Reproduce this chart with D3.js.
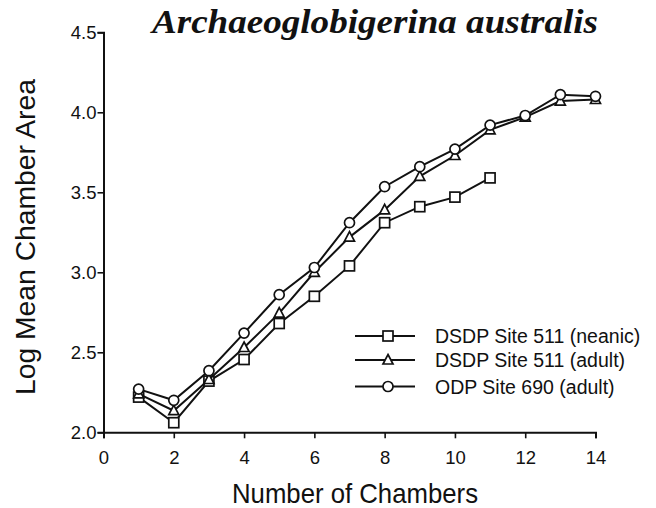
<!DOCTYPE html>
<html>
<head>
<meta charset="utf-8">
<script src="https://cdn.jsdelivr.net/npm/d3@7"></script>
<style>
  html, body { margin: 0; padding: 0; background: #fff; }
  svg { display: block; }
</style>
</head>
<body>
<svg id="chart" width="656" height="508"></svg>
<script>
// Chamber numbers and log mean chamber area for each sample
const chambersNeanic = [1, 2, 3, 4, 5, 6, 7, 8, 9, 10, 11];
const site511Neanic  = [2.22, 2.06, 2.32, 2.455, 2.68, 2.85, 3.04, 3.31, 3.41, 3.47, 3.59];

const chambersAdult  = [1, 2, 3, 4, 5, 6, 7, 8, 9, 10, 11, 12, 13, 14];
const site511Adult   = [2.24, 2.135, 2.33, 2.53, 2.745, 3.00, 3.22, 3.39, 3.60, 3.73, 3.89, 3.97, 4.07, 4.08];
const site690Adult   = [2.27, 2.20, 2.385, 2.62, 2.86, 3.03, 3.31, 3.535, 3.66, 3.77, 3.92, 3.98, 4.11, 4.10];

const seriesNames = ["DSDP Site 511 (neanic)", "DSDP Site 511 (adult)", "ODP Site 690 (adult)"];
const seriesSymbols = ["square", "triangle", "circle"];

const xTicks = [0, 2, 4, 6, 8, 10, 12, 14];
const yTicks = [2.0, 2.5, 3.0, 3.5, 4.0, 4.5];

const series = [
  { name: seriesNames[0], symbol: seriesSymbols[0], x: chambersNeanic, y: site511Neanic },
  { name: seriesNames[1], symbol: seriesSymbols[1], x: chambersAdult,  y: site511Adult },
  { name: seriesNames[2], symbol: seriesSymbols[2], x: chambersAdult,  y: site690Adult }
];

const svg = d3.select("#chart");
const sans = "'Liberation Sans', Arial, Helvetica, sans-serif";

const x = d3.scaleLinear().domain([0, 14]).range([103.5, 595.5]);
const y = d3.scaleLinear().domain([2.0, 4.5]).range([432.3, 32.3]);

// Title
svg.append("text")
  .attr("x", 375).attr("y", 33)
  .attr("text-anchor", "middle")
  .attr("font-family", "'Liberation Serif', 'Times New Roman', serif")
  .attr("font-weight", "bold")
  .attr("font-style", "italic")
  .attr("font-size", 34)
  .attr("textLength", 446)
  .attr("lengthAdjust", "spacingAndGlyphs")
  .attr("fill", "#111")
  .text("Archaeoglobigerina australis");

// Axes
const xAxis = svg.append("g")
  .attr("transform", `translate(0,${y(2.0)})`)
  .call(d3.axisBottom(x).tickValues(xTicks).tickFormat(d3.format("d")).tickSizeOuter(0).tickSize(6).tickPadding(13));
const yAxis = svg.append("g")
  .attr("transform", `translate(${x(0)},0)`)
  .call(d3.axisLeft(y).tickValues(yTicks).tickFormat(d3.format(".1f")).tickSizeOuter(0).tickSize(6).tickPadding(1));

[xAxis, yAxis].forEach(g => {
  g.select(".domain").attr("stroke", "#111").attr("stroke-width", 2);
  g.selectAll(".tick line").attr("stroke", "#111").attr("stroke-width", 1.6);
  g.selectAll(".tick text")
    .attr("fill", "#111")
    .attr("font-family", sans)
    .attr("font-size", 18.5);
});

// Axis titles
svg.append("text")
  .attr("x", 355).attr("y", 503)
  .attr("text-anchor", "middle")
  .attr("font-family", sans)
  .attr("font-size", 28)
  .attr("textLength", 246)
  .attr("lengthAdjust", "spacingAndGlyphs")
  .attr("fill", "#111")
  .text("Number of Chambers");

svg.append("text")
  .attr("transform", "translate(35,237) rotate(-90)")
  .attr("text-anchor", "middle")
  .attr("font-family", sans)
  .attr("font-size", 28)
  .attr("textLength", 316)
  .attr("lengthAdjust", "spacingAndGlyphs")
  .attr("fill", "#111")
  .text("Log Mean Chamber Area");

// Marker shapes
function drawMarker(sel, symbol) {
  if (symbol === "square") {
    sel.append("rect").attr("x", -5).attr("y", -5).attr("width", 10).attr("height", 10);
  } else if (symbol === "triangle") {
    sel.append("path").attr("d", "M0,-5.5L5,4L-5,4Z");
  } else {
    sel.append("circle").attr("r", 5);
  }
  sel.selectAll("rect,path,circle")
    .attr("fill", "#fff").attr("stroke", "#111").attr("stroke-width", 1.7);
}

const line = d3.line().x(d => x(d[0])).y(d => y(d[1]));

series.forEach(s => {
  const pts = s.x.map((c, i) => [c, s.y[i]]);
  const g = svg.append("g");
  g.append("path")
    .datum(pts)
    .attr("d", line)
    .attr("fill", "none")
    .attr("stroke", "#111")
    .attr("stroke-width", 2);
  g.selectAll("g.pt")
    .data(pts)
    .join("g")
    .attr("class", "pt")
    .attr("transform", d => `translate(${x(d[0])},${y(d[1])})`)
    .each(function () { drawMarker(d3.select(this), s.symbol); });
});

// Legend
const legendRows = [336, 360, 386.5];
series.forEach((s, i) => {
  const g = svg.append("g").attr("transform", `translate(0,${legendRows[i]})`);
  g.append("line").attr("x1", 355).attr("x2", 415).attr("y1", 0).attr("y2", 0)
    .attr("stroke", "#111").attr("stroke-width", 2);
  const m = g.append("g").attr("transform", "translate(388,0)");
  drawMarker(m, s.symbol);
  g.append("text")
    .attr("x", 435).attr("y", 7)
    .attr("font-family", sans)
    .attr("font-size", 19.5)
    .attr("fill", "#111")
    .text(s.name);
});
</script>
</body>
</html>
